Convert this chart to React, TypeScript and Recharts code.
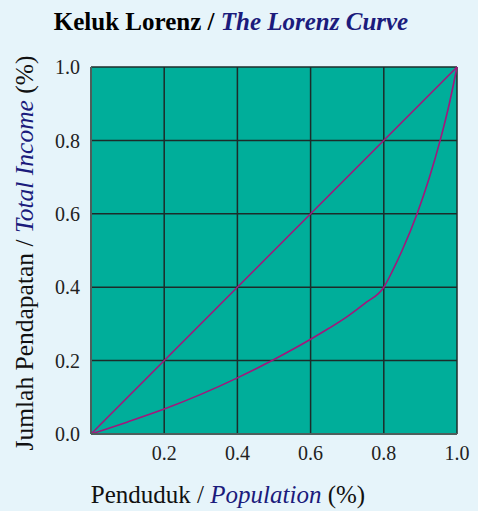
import { LineChart, Line, XAxis, YAxis, CartesianGrid, Label } from "recharts";

const X_TICKS = [0.2, 0.4, 0.6, 0.8, 1.0];
const Y_TICKS = [0, 0.2, 0.4, 0.6, 0.8, 1.0];

// line of perfect equality
const equalityLine = [
  { x: 0, y: 0 },
  { x: 1, y: 1 },
];

// lorenz curve
const lorenzX = [0, 0.1, 0.2, 0.3, 0.4, 0.5, 0.6, 0.65, 0.7, 0.75, 0.8, 0.825, 0.85, 0.891, 0.925, 0.954, 0.979, 1];
const lorenzY = [0, 0.033, 0.068, 0.108, 0.153, 0.203, 0.258, 0.288, 0.32, 0.357, 0.4, 0.447, 0.5, 0.6, 0.7, 0.8, 0.9, 1];
const lorenzCurve = lorenzX.map((x, i) => ({ x, y: lorenzY[i] }));

const SERIF = "'Liberation Serif', 'Times New Roman', serif";
const NAVY = "#1b1b7c";
const LINE = "#a3167c";

function XLabel() {
  return (
    <text x={228} y={503} textAnchor="middle" fontSize={25} fill="#111">
      <tspan>Penduduk / </tspan>
      <tspan fill={NAVY} fontStyle="italic">Population</tspan>
      <tspan> (%)</tspan>
    </text>
  );
}

function YLabel() {
  const cx = 33;
  const cy = 253;
  return (
    <text
      x={cx}
      y={cy}
      transform={`rotate(-90 ${cx} ${cy})`}
      textAnchor="middle"
      fontSize={25.5}
      fill="#111"
    >
      <tspan>Jumlah Pendapatan / </tspan>
      <tspan fill={NAVY} fontStyle="italic">Total Income</tspan>
      <tspan> (%)</tspan>
    </text>
  );
}

export default function App() {
  return (
    <div style={{ width: 478, height: 511, background: "#e6f4fa", position: "relative", fontFamily: SERIF }}>
      <style>{`body{margin:0} svg text, svg tspan{font-family:${SERIF} !important}`}</style>
      <div
        style={{
          position: "absolute",
          top: 6,
          left: 0,
          width: 462,
          textAlign: "center",
          fontSize: 25,
          lineHeight: "32px",
          fontWeight: "bold",
          color: "#000",
        }}
      >
        Keluk Lorenz / <span style={{ color: NAVY, fontStyle: "italic" }}>The Lorenz Curve</span>
      </div>
      <LineChart width={478} height={511} margin={{ top: 67, right: 21, bottom: 47, left: 0 }}>
        <CartesianGrid fill="#00ae9a" stroke="#1c2c2a" strokeWidth={1.5} />
        <XAxis
          type="number"
          dataKey="x"
          domain={[0, 1]}
          ticks={X_TICKS}
          tickFormatter={(v: number) => v.toFixed(1)}
          height={30}
          tickLine={false}
          tickSize={0}
          tickMargin={12}
          axisLine={{ stroke: "#4d5f5c", strokeWidth: 2 }}
          tick={{ fill: "#222", fontSize: 20 }}
          allowDuplicatedCategory={false}
        >
          <Label content={<XLabel />} />
        </XAxis>
        <YAxis
          type="number"
          dataKey="y"
          domain={[0, 1]}
          ticks={Y_TICKS}
          tickFormatter={(v: number) => v.toFixed(1)}
          width={91}
          tickLine={false}
          tickSize={0}
          tickMargin={11}
          axisLine={{ stroke: "#4d5f5c", strokeWidth: 2 }}
          tick={{ fill: "#222", fontSize: 20 }}
        >
          <Label content={<YLabel />} />
        </YAxis>
        <Line
          data={equalityLine}
          dataKey="y"
          type="linear"
          stroke={LINE}
          strokeWidth={1.6}
          dot={false}
          isAnimationActive={false}
        />
        <Line
          data={lorenzCurve}
          dataKey="y"
          type="monotone"
          stroke={LINE}
          strokeWidth={1.6}
          dot={false}
          isAnimationActive={false}
        />
      </LineChart>
    </div>
  );
}
